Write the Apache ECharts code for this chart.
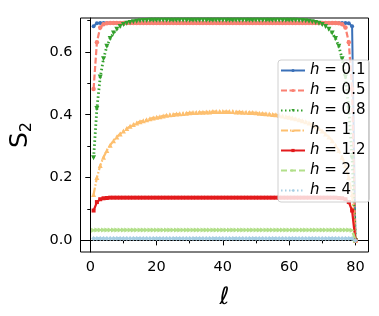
<!DOCTYPE html>
<html><head><meta charset="utf-8">
<script src="https://cdn.jsdelivr.net/npm/echarts@6/dist/echarts.min.js"></script>
<style>html,body{margin:0;padding:0;background:#fff}#c{width:379px;height:316px}</style>
</head><body><div id="c"></div>
<script>
const ell = [1,2,3,4,5,6,7,8,9,10,11,12,13,14,15,16,17,18,19,20,21,22,23,24,25,26,27,28,29,30,31,32,33,34,35,36,37,38,39,40,
41,42,43,44,45,46,47,48,49,50,51,52,53,54,55,56,57,58,59,60,61,62,63,64,65,66,67,68,69,70,71,72,73,74,75,76,77,78,79,80];
const hLabels = ['0.1','0.5','0.8','1','1.2','2','4'];
const s_h01 = [0.682,0.691,0.692,0.692,0.692,0.692,0.692,0.692,0.692,0.692,
0.692,0.692,0.692,0.692,0.692,0.692,0.692,0.692,0.692,0.692,
0.692,0.692,0.692,0.692,0.692,0.692,0.692,0.692,0.692,0.692,
0.692,0.692,0.692,0.692,0.692,0.692,0.692,0.692,0.692,0.692,
0.692,0.692,0.692,0.692,0.692,0.692,0.692,0.692,0.692,0.692,
0.692,0.692,0.692,0.692,0.692,0.692,0.692,0.692,0.692,0.692,
0.692,0.692,0.692,0.692,0.692,0.692,0.692,0.692,0.692,0.692,
0.692,0.692,0.692,0.692,0.692,0.692,0.692,0.691,0.682,0];
const s_h05 = [0.482,0.631,0.678,0.688,0.691,0.692,0.692,0.692,0.692,0.692,
0.692,0.692,0.692,0.692,0.692,0.692,0.692,0.692,0.692,0.692,
0.692,0.692,0.692,0.692,0.692,0.692,0.692,0.692,0.692,0.692,
0.692,0.692,0.692,0.692,0.692,0.692,0.692,0.692,0.692,0.692,
0.692,0.692,0.692,0.692,0.692,0.692,0.692,0.692,0.692,0.692,
0.692,0.692,0.692,0.692,0.692,0.692,0.692,0.692,0.692,0.692,
0.692,0.692,0.692,0.692,0.692,0.692,0.692,0.692,0.692,0.692,
0.692,0.692,0.692,0.692,0.691,0.688,0.678,0.631,0.482,0];
const s_h08 = [0.263,0.420,0.520,0.578,0.618,0.643,0.660,0.672,0.681,0.687,
0.691,0.694,0.696,0.698,0.699,0.700,0.700,0.701,0.701,0.701,
0.701,0.701,0.701,0.701,0.701,0.701,0.701,0.701,0.701,0.701,
0.701,0.701,0.701,0.701,0.701,0.701,0.701,0.701,0.701,0.701,
0.701,0.701,0.701,0.701,0.701,0.701,0.701,0.701,0.701,0.701,
0.701,0.701,0.701,0.701,0.701,0.701,0.701,0.701,0.701,0.701,
0.701,0.701,0.700,0.700,0.699,0.698,0.696,0.694,0.691,0.687,
0.681,0.672,0.660,0.643,0.618,0.578,0.520,0.420,0.263,0];
const s_h1 = [0.146,0.200,0.238,0.265,0.286,0.303,0.317,0.329,0.339,0.348,
0.356,0.363,0.369,0.374,0.378,0.381,0.384,0.387,0.390,0.392,
0.394,0.396,0.398,0.400,0.401,0.402,0.403,0.404,0.405,0.406,
0.407,0.407,0.408,0.408,0.409,0.409,0.410,0.410,0.410,0.410,
0.410,0.410,0.410,0.409,0.409,0.408,0.408,0.407,0.407,0.406,
0.405,0.404,0.403,0.402,0.401,0.400,0.398,0.396,0.394,0.392,
0.390,0.387,0.384,0.381,0.378,0.374,0.369,0.363,0.356,0.348,
0.339,0.329,0.317,0.303,0.286,0.265,0.238,0.200,0.146,0];
const s_h12 = [0.095,0.122,0.131,0.134,0.135,0.136,0.136,0.136,0.136,0.136,
0.136,0.136,0.136,0.136,0.136,0.136,0.136,0.136,0.136,0.136,
0.136,0.136,0.136,0.136,0.136,0.136,0.136,0.136,0.136,0.136,
0.136,0.136,0.136,0.136,0.136,0.136,0.136,0.136,0.136,0.136,
0.136,0.136,0.136,0.136,0.136,0.136,0.136,0.136,0.136,0.136,
0.136,0.136,0.136,0.136,0.136,0.136,0.136,0.136,0.136,0.136,
0.136,0.136,0.136,0.136,0.136,0.136,0.136,0.136,0.136,0.136,
0.136,0.136,0.136,0.136,0.135,0.134,0.131,0.122,0.095,0];
const s_h2 = [0.032,0.033,0.033,0.033,0.033,0.033,0.033,0.033,0.033,0.033,
0.033,0.033,0.033,0.033,0.033,0.033,0.033,0.033,0.033,0.033,
0.033,0.033,0.033,0.033,0.033,0.033,0.033,0.033,0.033,0.033,
0.033,0.033,0.033,0.033,0.033,0.033,0.033,0.033,0.033,0.033,
0.033,0.033,0.033,0.033,0.033,0.033,0.033,0.033,0.033,0.033,
0.033,0.033,0.033,0.033,0.033,0.033,0.033,0.033,0.033,0.033,
0.033,0.033,0.033,0.033,0.033,0.033,0.033,0.033,0.033,0.033,
0.033,0.033,0.033,0.033,0.033,0.033,0.033,0.033,0.032,0];
const s_h4 = [0.006,0.006,0.006,0.006,0.006,0.006,0.006,0.006,0.006,0.006,
0.006,0.006,0.006,0.006,0.006,0.006,0.006,0.006,0.006,0.006,
0.006,0.006,0.006,0.006,0.006,0.006,0.006,0.006,0.006,0.006,
0.006,0.006,0.006,0.006,0.006,0.006,0.006,0.006,0.006,0.006,
0.006,0.006,0.006,0.006,0.006,0.006,0.006,0.006,0.006,0.006,
0.006,0.006,0.006,0.006,0.006,0.006,0.006,0.006,0.006,0.006,
0.006,0.006,0.006,0.006,0.006,0.006,0.006,0.006,0.006,0.006,
0.006,0.006,0.006,0.006,0.006,0.006,0.006,0.006,0.006,0];
const xMajor = [0,20,40,60,80];
const xMinor = [10,30,50,70];
const yMajor = [0,0.2,0.4,0.6];
const yMinor = [0.1,0.3,0.5,0.7];

const allVals = [s_h01,s_h05,s_h08,s_h1,s_h12,s_h2,s_h4];
const styles = [
  {color:'#3a70b8', type:'solid', width:2, symbol:'circle', size:4},
  {color:'#fa8072', type:[6,2.5], width:2.2, symbol:'circle', size:4.5},
  {color:'#33a02c', type:[1.5,2.5], width:2.8, symbol:'triangle', rot:180, size:5},
  {color:'#fdbf6f', type:[7,2,1.5,2], width:2.2, symbol:'triangle', size:5},
  {color:'#e31a1c', type:'solid', width:2.2, symbol:'rect', size:4},
  {color:'#b2df8a', type:[6,3], width:2.6, symbol:'triangle', rot:-90, size:5},
  {color:'#a6cee3', type:[1.5,2.5], width:2.8, symbol:'diamond', size:5}
];
const FONT = '"DejaVu Sans", sans-serif';
const series = allVals.map((vals,k)=>({
  type:'line', name:hLabels[k], xAxisIndex:0, yAxisIndex:0,
  data: ell.map((x,i)=>[x, vals[i]]),
  symbol: styles[k].symbol, symbolSize: styles[k].size, symbolRotate: styles[k].rot||0,
  showSymbol:true, animation:false, clip:true,
  lineStyle:{color:styles[k].color, width:styles[k].width, type:styles[k].type},
  itemStyle:{color:styles[k].color, borderWidth:0},
  emphasis:{disabled:true}
}));
const chart = echarts.init(document.getElementById('c'), null, {renderer:'canvas'});
const axisCommon = {
  axisLine:{show:true, lineStyle:{color:'#000', width:1}},
  splitLine:{show:false}
};
chart.setOption({
  animation:false,
  backgroundColor:'#fff',
  grid:{left:73.3, right:10.5, top:18, bottom:64, show:true, borderColor:'#000', borderWidth:1, backgroundColor:'#fff'},
  legend:{
    show:true, orient:'vertical', left:278, top:60, width:88,
    backgroundColor:'rgba(255,255,255,0.8)', borderColor:'#d0d0d0', borderWidth:1, borderRadius:3,
    padding:[3,4,4,2], itemGap:5.0, itemWidth:24, itemHeight:4,
    data: hLabels,
    formatter: n => '{i|h} = ' + n,
    textStyle:{fontFamily:FONT, fontSize:15, lineHeight:14, color:'#000', rich:{i:{fontFamily:FONT, fontStyle:'italic', fontSize:15, lineHeight:14, color:'#000'}}},
    selectedMode:false
  },
  xAxis:[
    Object.assign({type:'value', min:-2.95, max:83.95, position:'bottom',
      axisTick:{show:true, length:5, lineStyle:{color:'#000'}, customValues:xMajor},
      axisLabel:{show:true, customValues:xMajor, margin:8, fontFamily:FONT, fontSize:14.5, color:'#000'},
      name:'ℓ', nameLocation:'middle', nameGap:34,
      nameTextStyle:{fontFamily:FONT, fontStyle:'italic', fontSize:24, color:'#000'}
    }, axisCommon),
    {type:'value', min:-2.95, max:83.95, position:'bottom', gridIndex:0,
      axisLine:{show:false}, splitLine:{show:false}, axisLabel:{show:false},
      axisTick:{show:true, length:3, lineStyle:{color:'#000'}, customValues:xMinor}}
  ],
  yAxis:[
    Object.assign({type:'value', min:-0.037, max:0.708, position:'left',
      axisTick:{show:true, length:5, lineStyle:{color:'#000'}, customValues:yMajor},
      axisLabel:{show:true, customValues:yMajor, margin:8, fontFamily:FONT, fontSize:14.5, color:'#000',
        formatter: v => v.toFixed(1)},
      name:'{s|S}{sub|2}', nameLocation:'middle', nameGap:46, nameRotate:90,
      nameTextStyle:{rich:{s:{fontFamily:FONT, fontSize:25, color:'#000'}, sub:{fontFamily:FONT, fontSize:16, color:'#000', verticalAlign:'bottom', padding:[12,0,0,0]}}}
    }, axisCommon),
    {type:'value', min:-0.037, max:0.708, position:'left', gridIndex:0,
      axisLine:{show:false}, splitLine:{show:false}, axisLabel:{show:false},
      axisTick:{show:true, length:3, lineStyle:{color:'#000'}, customValues:yMinor}}
  ],
  series: series
});
</script></body></html>
